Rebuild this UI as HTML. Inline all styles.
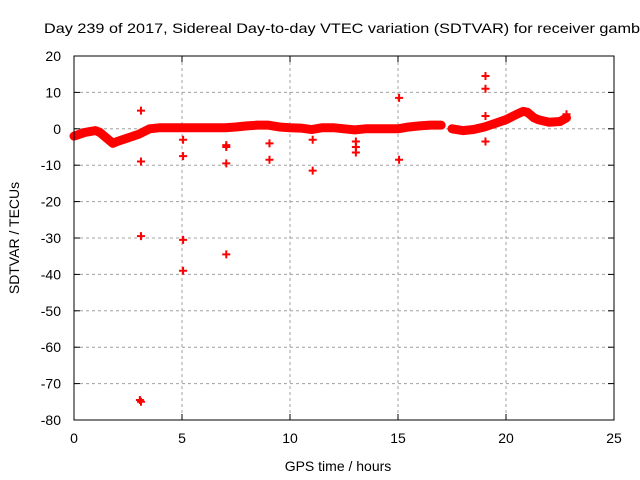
<!DOCTYPE html>
<html><head><meta charset="utf-8"><style>
body{margin:0;background:#fff}
svg{display:block;font-family:"Liberation Sans",Arial,sans-serif}
</style></head><body>
<svg id="chart" width="640" height="480" xmlns="http://www.w3.org/2000/svg">
<rect width="640" height="480" fill="#fff"/>
<text x="44" y="33" font-size="14" textLength="596" lengthAdjust="spacingAndGlyphs">Day 239 of 2017, Sidereal Day-to-day VTEC variation (SDTVAR) for receiver gamb</text>
<g id="grid"></g>
<g id="ticks"></g>
<g id="data"></g>
<rect x="74" y="56" width="540" height="364" fill="none" stroke="#000" stroke-width="1"/>
<text x="338" y="471" font-size="14" text-anchor="middle">GPS time / hours</text>
<text transform="translate(19,238) rotate(-90)" font-size="14" text-anchor="middle">SDTVAR / TECUs</text>
</svg>
<script>
const xTicks=[0,5,10,15,20,25];
const yTicks=[20,10,0,-10,-20,-30,-40,-50,-60,-70,-80];
const bandTimes=[0,0.5,1.0,1.2,1.5,1.8,2.0,2.5,3.0,3.5,4,4.5,5,5.5,6,6.5,7,7.5,8,8.5,9,9.5,10,10.5,11,11.5,12,12.5,13,13.5,14,14.5,15,15.5,16,16.5,17];
const bandValues=[-2,-1,-0.5,-1,-2.5,-4,-3.5,-2.5,-1.5,0,0.3,0.3,0.3,0.3,0.3,0.3,0.3,0.5,0.8,1,1,0.5,0.3,0.2,-0.2,0.3,0.3,0,-0.3,0,0,0,0,0.5,0.8,1,1];
const band2Times=[17.5,18,18.5,19,19.5,20,20.5,20.8,21,21.3,21.5,22,22.5,22.8];
const band2Values=[0,-0.5,-0.2,0.5,1.5,2.5,4,4.8,4.5,3,2.5,1.8,2,3];
const outTimes=[3.1,3.1,3.1,3.1,3.05,5.05,5.05,5.05,5.05,7.05,7.05,7.05,7.05,9.05,9.05,11.05,11.05,13.05,13.05,13.05,15.05,15.05,19.05,19.05,19.05,19.05,22.8];
const outValues=[5,-9,-29.5,-75,-74.5,-3,-7.5,-30.5,-39,-5,-4.5,-9.5,-34.5,-4,-8.5,-3,-11.5,-3.5,-5,-6.5,8.5,-8.5,14.5,11,3.5,-3.5,4];
const X=t=>74+t*540/25, Y=v=>56+(20-v)*364/100;
const NS='http://www.w3.org/2000/svg';
function mk(tag,attrs,parent){const e=document.createElementNS(NS,tag);for(const k in attrs)e.setAttribute(k,attrs[k]);parent.appendChild(e);return e;}
const grid=document.getElementById('grid'),ticks=document.getElementById('ticks'),data=document.getElementById('data');
xTicks.forEach(t=>{
 if(t>0&&t<25){const g=mk('line',{x1:X(t),x2:X(t),y1:56,y2:420,stroke:'#a0a0a0','stroke-dasharray':'3,3'},grid);
 
 }
 mk('line',{x1:X(t),x2:X(t),y1:420,y2:414,stroke:'#000'},ticks);
 mk('line',{x1:X(t),x2:X(t),y1:56,y2:62,stroke:'#000'},ticks);
 const l=mk('text',{x:X(t),y:443,'font-size':14,'text-anchor':'middle'},ticks);l.textContent=t;
 
 
});
yTicks.forEach(v=>{
 if(v<20&&v>-80){const g=mk('line',{x1:74,x2:614,y1:Y(v),y2:Y(v),stroke:'#a0a0a0','stroke-dasharray':'3,3'},grid);
 
 }
 mk('line',{x1:74,x2:80,y1:Y(v),y2:Y(v),stroke:'#000'},ticks);
 mk('line',{x1:614,x2:608,y1:Y(v),y2:Y(v),stroke:'#000'},ticks);
 const l=mk('text',{x:61,y:Y(v)+5,'font-size':14,'text-anchor':'end'},ticks);l.textContent=v;
 
 
});
function band(ts,vs,name){
 const p=mk('polyline',{points:ts.map((t,i)=>X(t)+','+Y(vs[i])).join(' '),fill:'none',stroke:'#f00','stroke-width':9,'stroke-linejoin':'round','stroke-linecap':'round'},data);
 
 
}
band(bandTimes,bandValues,'sdtvar-band-1');
band(band2Times,band2Values,'sdtvar-band-2');
outTimes.forEach((t,i)=>{
 const x=X(t),y=Y(outValues[i]);
 const p=mk('path',{d:`M${x-4},${y}H${x+4}M${x},${y-4}V${y+4}`,stroke:'#f00','stroke-width':2},data);
 
 
});
</script>
</body></html>
